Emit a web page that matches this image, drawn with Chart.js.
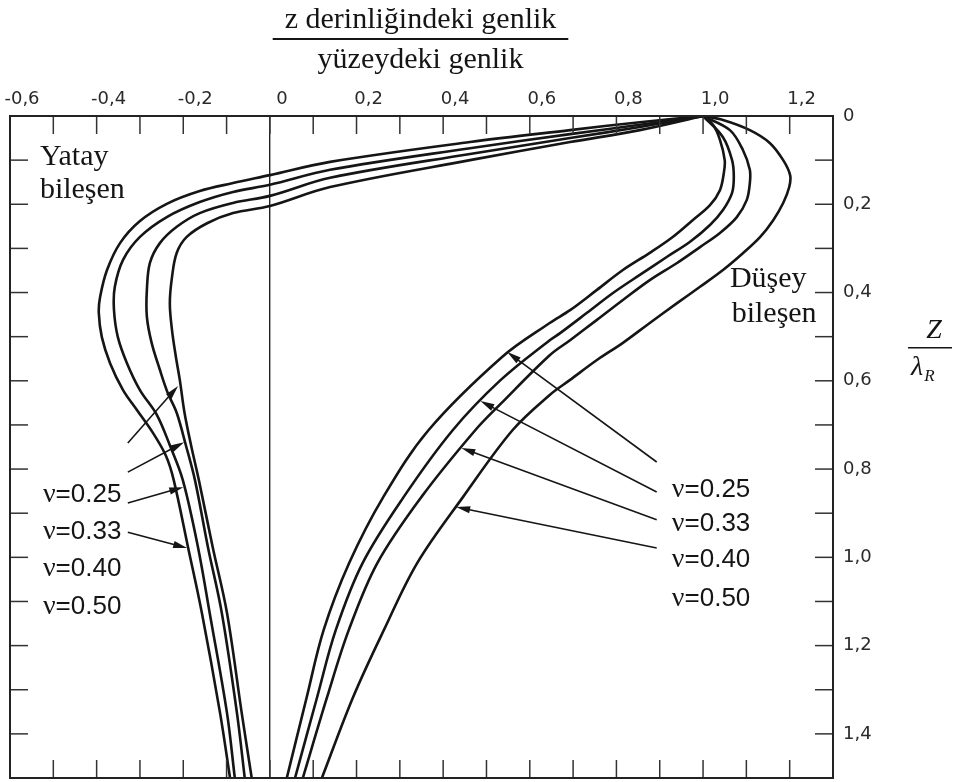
<!DOCTYPE html>
<html>
<head>
<meta charset="utf-8">
<script src="https://cdn.jsdelivr.net/npm/chart.js@4.4.1/dist/chart.umd.min.js"></script>
<style>
  html, body { margin: 0; padding: 0; background: #ffffff; }
  canvas { display: block; }
</style>
</head>
<body>
<canvas id="c" width="978" height="782"></canvas>
<script>
// Poisson ratios of the four curves in each family (inner to outer)
const poissonRatios = ['0.25', '0.33', '0.40', '0.50'];

// Horizontal component: [amplitude ratio, z/λR]
const yatay025 = [[1.000,0.000],[0.854,0.032],[0.693,0.059],[0.462,0.100],[0.139,0.161],[0.000,0.204],[-0.085,0.220],[-0.145,0.243],[-0.192,0.274],[-0.215,0.310],[-0.226,0.365],[-0.231,0.424],[-0.226,0.485],[-0.217,0.546],[-0.208,0.598],[-0.197,0.673],[-0.182,0.746],[-0.164,0.825],[-0.132,0.977],[-0.099,1.126],[-0.065,1.353],[-0.042,1.500]];
const yatay033 = [[1.000,0.000],[0.854,0.025],[0.693,0.050],[0.462,0.086],[0.139,0.140],[0.000,0.181],[-0.085,0.197],[-0.162,0.220],[-0.215,0.251],[-0.254,0.288],[-0.277,0.333],[-0.284,0.394],[-0.284,0.455],[-0.273,0.514],[-0.254,0.575],[-0.236,0.627],[-0.215,0.673],[-0.194,0.746],[-0.173,0.825],[-0.143,0.977],[-0.111,1.126],[-0.076,1.353],[-0.058,1.500]];
const yatay040 = [[1.000,0.000],[0.854,0.020],[0.693,0.041],[0.462,0.073],[0.139,0.122],[0.000,0.156],[-0.085,0.172],[-0.162,0.195],[-0.238,0.229],[-0.300,0.274],[-0.339,0.326],[-0.358,0.387],[-0.360,0.439],[-0.351,0.501],[-0.330,0.560],[-0.300,0.621],[-0.261,0.677],[-0.231,0.746],[-0.201,0.825],[-0.166,0.977],[-0.139,1.126],[-0.099,1.353],[-0.081,1.500]];
const yatay050 = [[1.000,0.000],[0.854,0.014],[0.693,0.032],[0.462,0.059],[0.139,0.104],[0.000,0.134],[-0.085,0.152],[-0.162,0.170],[-0.238,0.199],[-0.300,0.238],[-0.346,0.288],[-0.376,0.349],[-0.392,0.410],[-0.395,0.446],[-0.388,0.501],[-0.369,0.560],[-0.339,0.621],[-0.307,0.666],[-0.270,0.718],[-0.240,0.770],[-0.222,0.825],[-0.189,0.977],[-0.157,1.126],[-0.115,1.353],[-0.092,1.500]];

// Vertical component: [amplitude ratio, z/λR]
const dusey025 = [[1.000,0.000],[1.023,0.020],[1.039,0.054],[1.050,0.100],[1.048,0.129],[1.039,0.168],[1.016,0.202],[0.976,0.236],[0.930,0.274],[0.877,0.310],[0.815,0.349],[0.755,0.394],[0.693,0.440],[0.646,0.469],[0.536,0.546],[0.366,0.712],[0.262,0.863],[0.183,1.013],[0.124,1.165],[0.085,1.317],[0.039,1.500]];
const dusey033 = [[1.000,0.000],[1.046,0.048],[1.067,0.100],[1.071,0.138],[1.067,0.174],[1.046,0.213],[1.016,0.247],[0.970,0.285],[0.917,0.319],[0.854,0.360],[0.792,0.401],[0.732,0.446],[0.670,0.492],[0.646,0.508],[0.533,0.598],[0.422,0.712],[0.309,0.863],[0.214,1.013],[0.152,1.165],[0.109,1.317],[0.058,1.500]];
const dusey040 = [[1.000,0.000],[1.062,0.032],[1.092,0.077],[1.108,0.122],[1.108,0.152],[1.101,0.190],[1.078,0.229],[1.039,0.265],[0.993,0.297],[0.940,0.333],[0.877,0.372],[0.815,0.417],[0.755,0.462],[0.693,0.508],[0.646,0.542],[0.535,0.650],[0.474,0.712],[0.350,0.863],[0.248,1.013],[0.182,1.165],[0.132,1.317],[0.076,1.500]];
const dusey050 = [[1.000,0.000],[1.046,0.009],[1.108,0.032],[1.154,0.061],[1.185,0.100],[1.201,0.134],[1.199,0.161],[1.185,0.197],[1.162,0.236],[1.132,0.274],[1.092,0.311],[1.046,0.349],[0.993,0.387],[0.940,0.424],[0.877,0.469],[0.815,0.514],[0.755,0.553],[0.693,0.598],[0.646,0.632],[0.560,0.712],[0.446,0.863],[0.340,1.013],[0.263,1.165],[0.192,1.317],[0.120,1.500]];

// Tick labels (every second minor tick is labelled)
const xTickLabels = ['-0,6','-0,4','-0,2','0','0,2','0,4','0,6','0,8','1,0','1,2'];
const yTickLabels = ['0','0,2','0,4','0,6','0,8','1,0','1,2','1,4'];

// Annotation layout, in axis units
const notes = {
  yatay:  [{ text: 'Yatay', x: -0.531, y: 0.111 }, { text: 'bileşen', x: -0.531, y: 0.186 }],
  dusey:  [{ text: 'Düşey', x: 1.062, y: 0.388 }, { text: 'bileşen', x: 1.066, y: 0.467 }],
  nuLeft:  { x: -0.524, y: [0.855, 0.938, 1.022, 1.108] },
  nuRight: { x: 0.928,  y: [0.842, 0.921, 1.002, 1.091] },
  // pointers: [from x, from y, to x, to y]
  arrowsLeft:  [[-0.328,0.741,-0.212,0.612],[-0.328,0.807,-0.198,0.739],[-0.328,0.877,-0.200,0.841],[-0.328,0.943,-0.191,0.979]],
  arrowsRight: [[0.893,0.784,0.548,0.535],[0.893,0.852,0.486,0.646],[0.893,0.915,0.442,0.752],[0.893,0.979,0.430,0.886]]
};

const INK = '#151515';
const SERIF = '"Liberation Serif", "DejaVu Serif", serif';
const SANS = '"Liberation Sans", Arial, sans-serif';

function series(pairs) {
  return {
    data: pairs.map(([x, y]) => ({ x, y })),
    showLine: true,
    borderColor: INK,
    borderWidth: 2.6,
    pointRadius: 0,
    tension: 0.35,
    fill: false
  };
}

const decor = {
  id: 'decor',
  afterDatasetsDraw(chart) {
    const { ctx, chartArea: a, scales: { x, y } } = chart;
    const seg = (x0, y0, x1, y1) => { ctx.beginPath(); ctx.moveTo(x0, y0); ctx.lineTo(x1, y1); ctx.stroke(); };
    ctx.save();

    // inward tick marks on all four sides
    ctx.strokeStyle = '#333';
    ctx.lineWidth = 1.5;
    const len = 18;
    x.ticks.forEach(t => {
      const px = x.getPixelForValue(t.value);
      if (px <= a.left + 1 || px >= a.right - 1) return;
      seg(px, a.top, px, a.top + len);
      seg(px, a.bottom, px, a.bottom - len);
    });
    y.ticks.forEach(t => {
      const py = y.getPixelForValue(t.value);
      if (py <= a.top + 1 || py >= a.bottom - 1) return;
      seg(a.left, py, a.left + len, py);
      seg(a.right, py, a.right - len, py);
    });

    // frame
    ctx.strokeStyle = '#222';
    ctx.lineWidth = 2;
    ctx.strokeRect(a.left, a.top, a.right - a.left, a.bottom - a.top);

    // pointers from the ν labels to the curves
    ctx.strokeStyle = INK;
    ctx.fillStyle = INK;
    ctx.lineWidth = 1.6;
    const arrow = ([vx0, vy0, vx1, vy1]) => {
      const x0 = x.getPixelForValue(vx0), y0 = y.getPixelForValue(vy0);
      const x1 = x.getPixelForValue(vx1), y1 = y.getPixelForValue(vy1);
      const ang = Math.atan2(y1 - y0, x1 - x0);
      const L = 14, W = 3.6;
      const c = Math.cos(ang), s = Math.sin(ang);
      seg(x0, y0, x1 - c * 6, y1 - s * 6);
      ctx.beginPath();
      ctx.moveTo(x1, y1);
      ctx.lineTo(x1 - L * c + W * s, y1 - L * s - W * c);
      ctx.lineTo(x1 - L * c - W * s, y1 - L * s + W * c);
      ctx.closePath();
      ctx.fill();
    };
    notes.arrowsLeft.forEach(arrow);
    notes.arrowsRight.forEach(arrow);
    ctx.restore();
  },
  afterDraw(chart) {
    const { ctx, chartArea: a, scales: { x, y } } = chart;
    ctx.save();
    ctx.fillStyle = INK;
    ctx.textBaseline = 'alphabetic';

    // component names
    ctx.font = '30px ' + SERIF;
    ctx.textAlign = 'left';
    [...notes.yatay, ...notes.dusey].forEach(n => {
      ctx.fillText(n.text, x.getPixelForValue(n.x), y.getPixelForValue(n.y));
    });

    // ν labels
    const nu = (px, pyCenter, val) => {
      const base = pyCenter + 9;
      ctx.font = '28px ' + SERIF;
      ctx.fillText('ν', px, base);
      const w = ctx.measureText('ν').width;
      ctx.font = '26px ' + SANS;
      ctx.fillText('=' + val, px + w, base);
    };
    poissonRatios.forEach((v, i) => {
      nu(x.getPixelForValue(notes.nuLeft.x), y.getPixelForValue(notes.nuLeft.y[i]), v);
      nu(x.getPixelForValue(notes.nuRight.x), y.getPixelForValue(notes.nuRight.y[i]), v);
    });

    // horizontal axis title as a fraction
    const cx = (a.left + a.right) / 2 - 1;
    ctx.textAlign = 'center';
    ctx.font = '30px ' + SERIF;
    const top = 'z derinliğindeki genlik', bottom = 'yüzeydeki genlik';
    ctx.fillText(top, cx, a.top - 88);
    ctx.fillText(bottom, cx, a.top - 48);
    const wRule = Math.max(ctx.measureText(top).width, ctx.measureText(bottom).width) + 24;
    ctx.strokeStyle = INK;
    ctx.lineWidth = 2;
    ctx.beginPath();
    ctx.moveTo(cx - wRule / 2, a.top - 77);
    ctx.lineTo(cx + wRule / 2, a.top - 77);
    ctx.stroke();

    // vertical axis title Z / λR
    const zx = a.right + 97;
    const zy = y.getPixelForValue(0.525);
    ctx.font = 'italic 28px ' + SERIF;
    ctx.fillText('Z', zx + 4, zy - 10);
    ctx.lineWidth = 1.6;
    ctx.beginPath();
    ctx.moveTo(zx - 22, zy);
    ctx.lineTo(zx + 22, zy);
    ctx.stroke();
    ctx.textAlign = 'left';
    ctx.font = 'italic 28px ' + SERIF;
    ctx.fillText('λ', zx - 19, zy + 27);
    const lw = ctx.measureText('λ').width;
    ctx.font = 'italic 17px ' + SERIF;
    ctx.fillText('R', zx - 19 + lw + 1, zy + 33);
    ctx.restore();
  }
};

const tenth = v => Math.round(v * 10);
const tickFont = { family: '"DejaVu Sans", sans-serif', size: 18 };

new Chart(document.getElementById('c').getContext('2d'), {
  type: 'scatter',
  data: {
    datasets: [
      series(yatay025), series(yatay033), series(yatay040), series(yatay050),
      series(dusey025), series(dusey033), series(dusey040), series(dusey050)
    ]
  },
  options: {
    responsive: false,
    animation: false,
    devicePixelRatio: 1,
    layout: { padding: { top: 76, left: 10, right: 0, bottom: 4 } },
    plugins: { legend: { display: false }, tooltip: { enabled: false }, title: { display: false } },
    scales: {
      x: {
        type: 'linear',
        position: 'top',
        min: -0.6,
        max: 1.3,
        afterFit(s) { s.height = 40; s.paddingLeft = 0; s.paddingRight = 0; },
        border: { display: false },
        grid: {
          drawTicks: false,
          drawOnChartArea: true,
          lineWidth: 1.4,
          color: c => (c.tick && tenth(c.tick.value) === 0) ? '#222' : 'rgba(0,0,0,0)'
        },
        ticks: {
          stepSize: 0.1,
          autoSkip: false,
          maxRotation: 0,
          padding: 6,
          labelOffset: 12,
          color: '#2a2a2a',
          font: tickFont,
          callback: v => {
            const k = tenth(v);
            return (k % 2 === 0) ? (xTickLabels[(k + 6) / 2] ?? '') : '';
          }
        }
      },
      y: {
        type: 'linear',
        position: 'right',
        reverse: true,
        min: 0,
        max: 1.5,
        afterFit(s) { s.width = 145; s.paddingTop = 0; s.paddingBottom = 0; },
        border: { display: false },
        grid: { display: false, drawTicks: false },
        ticks: {
          stepSize: 0.1,
          autoSkip: false,
          padding: 10,
          color: '#2a2a2a',
          font: tickFont,
          callback: v => {
            const k = tenth(v);
            return (k % 2 === 0) ? (yTickLabels[k / 2] ?? '') : '';
          }
        }
      }
    }
  },
  plugins: [decor]
});
</script>
</body>
</html>
